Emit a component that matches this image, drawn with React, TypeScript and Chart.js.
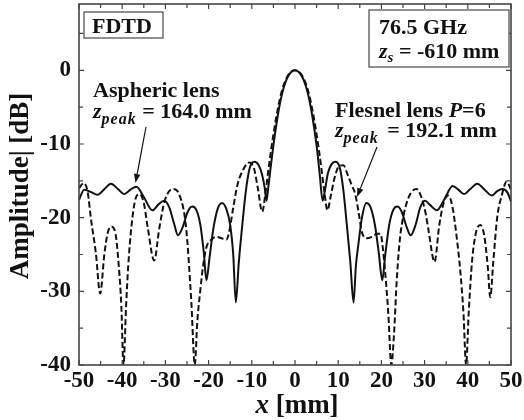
import { useEffect, useRef } from 'react';
import { Chart, registerables } from 'chart.js';

Chart.register(...registerables);

// Aspheric lens (solid)
const asphericX = [
  -50, -48.8, -47.3, -45.7, -44.1, -42.6, -41.0, -39.5, -38.1, -36.7, -35.0, -33.0, -31.6, -30.3,
  -29.1, -28.0, -27.1, -26.0, -24.9, -23.8, -22.8, -21.9, -21.1, -20.5, -19.8, -18.9, -17.9, -16.9,
  -15.9, -15.0, -14.3, -13.7, -13.0, -12.2, -11.4, -10.5, -9.4, -8.4, -7.6, -7.0, -6.6, -6.2, -5.7,
  -5.0, -4.0, -3.0, -2.0, -1.0, 0,
  1, 2, 3, 4, 5, 5.7, 6.4, 6.9, 7.6, 8.4, 9.4, 10.4, 11.2, 12.0, 12.8, 13.55, 14.1, 14.7, 15.5,
  16.5, 17.5, 18.5, 19.4, 20.2, 20.9, 21.8, 22.7, 23.7, 24.7, 25.8, 26.8, 27.9, 29.0, 30.1, 31.3,
  32.8, 34.5, 36.5, 37.8, 39.1, 40.6, 42.2, 43.9, 45.6, 46.8, 48.0, 49.2, 50,
];
const asphericY = [
  -17.6, -16.2, -16.5, -16.9, -16.1, -15.4, -16.1, -16.8, -16.2, -15.8, -17.2, -19.0, -18.2, -17.7,
  -18.6, -20.8, -22.4, -21.3, -19.3, -18.5, -19.0, -21.0, -24.8, -28.5, -25.5, -21.5, -18.8, -18.0,
  -18.8, -21.0, -25.0, -31.5, -26.0, -21.0, -16.5, -13.3, -12.4, -12.9, -14.2, -16.0, -17.7, -16.0, -13.5,
  -10.2, -6.2, -3.2, -1.3, -0.3, 0,
  -0.3, -1.3, -3.2, -6.2, -10.2, -14.0, -17.7, -16.4, -14.0, -12.8, -12.4, -13.3, -16.3, -21.0, -26.0, -31.5, -26.5, -23.5, -20.0,
  -18.0, -18.6, -21.0, -24.8, -28.5, -25.0, -21.0, -19.0, -18.5, -19.2, -21.2, -22.4, -21.0, -18.6, -17.7, -18.3,
  -19.0, -17.6, -15.7, -16.2, -16.8, -16.1, -15.4, -16.2, -17.0, -16.4, -16.1, -16.6, -17.8,
];

// Fresnel lens P=6 (dashed)
const fresnelX = [
  -50, -48.9, -48.0, -47.2, -46.1, -45.1, -44.1, -43.4, -42.6, -41.6, -40.8, -40.2, -39.7, -39.1,
  -38.6, -37.9, -36.9, -36.0, -35.0, -34.1, -32.6, -31.4, -30.2, -28.3, -26.7, -25.2, -24.0, -23.2,
  -22.6, -22.0, -21.2, -20.5, -19.4, -18.2, -17.0, -15.9, -15.1, -14.4, -13.3, -12.0, -10.6, -9.5,
  -8.6, -7.6, -6.8, -6.0, -5.0, -4.0, -3.0, -2.0, -1.0, 0,
  1, 2, 3, 4, 5, 6, 6.8, 7.5, 8.3, 9.2, 10.2, 11.2, 12.2, 13.2, 13.95, 14.7, 15.5, 16.6, 17.8, 19.0,
  19.8, 20.4, 20.9, 21.6, 22.3, 22.9, 23.6, 24.3, 25.2, 26.5, 28.1, 29.3, 30.3, 30.9, 32.3, 33.4,
  34.6, 35.5, 36.4, 37.4, 38.3, 39.0, 39.6, 40.2, 41.0, 41.9, 42.9, 43.8, 44.6, 45.2, 45.9, 46.8,
  47.9, 49.0, 50,
];
const fresnelY = [
  -16.0, -15.3, -16.5, -20.3, -24.8, -30.3, -24.8, -22.2, -21.2, -22.0, -26.5, -32.0, -40.0, -32.0,
  -26.5, -21.4, -17.4, -16.8, -18.0, -21.3, -25.8, -21.4, -17.8, -16.1, -17.0, -21.4, -31.4, -40.0,
  -34.0, -30.3, -26.2, -24.0, -23.0, -22.6, -22.8, -23.0, -21.5, -19.0, -15.5, -13.5, -12.5, -13.3,
  -16.0, -19.2, -16.5, -12.8, -8.7, -5.3, -2.7, -1.1, -0.25, 0,
  -0.25, -1.1, -2.7, -5.3, -8.7, -12.8, -16.5, -19.0, -17.0, -14.5, -13.0, -12.9, -14.2, -15.7, -16.8, -19.2, -22.0, -22.8, -22.6, -22.2,
  -22.2, -24.5, -27.6, -33.0, -40.0, -36.0, -28.0, -22.8, -19.5, -17.0, -16.1, -17.3, -19.6, -21.7, -26.0, -21.0,
  -17.6, -17.0, -18.4, -22.5, -27.5, -33.0, -40.0, -33.0, -25.8, -22.0, -21.0, -22.4, -26.5, -30.8, -26.0, -20.0,
  -16.9, -15.1, -16.2,
];

const xTickLabels = [-50, -40, -30, -20, -10, 0, 10, 20, 30, 40, 50];
const yTickLabels = [-40, -30, -20, -10, 0];
const xTickMarks = [-50, -45, -40, -35, -30, -25, -20, -15, -10, -5, 0, 5, 10, 15, 20, 25, 30, 35, 40, 45, 50];
const yTickMarks = [-40, -35, -30, -25, -20, -15, -10, -5, 0, 5];

const SERIF = '"Liberation Serif", "Times New Roman", serif';

function drawArrow(ctx: CanvasRenderingContext2D, x1: number, y1: number, x2: number, y2: number) {
  const ang = Math.atan2(y2 - y1, x2 - x1);
  const hl = 9;
  const hw = 3.2;
  ctx.save();
  ctx.strokeStyle = '#111';
  ctx.fillStyle = '#111';
  ctx.lineWidth = 1.2;
  ctx.beginPath();
  ctx.moveTo(x1, y1);
  ctx.lineTo(x2 - hl * Math.cos(ang), y2 - hl * Math.sin(ang));
  ctx.stroke();
  ctx.beginPath();
  ctx.moveTo(x2, y2);
  ctx.lineTo(x2 - hl * Math.cos(ang) + hw * Math.sin(ang), y2 - hl * Math.sin(ang) - hw * Math.cos(ang));
  ctx.lineTo(x2 - hl * Math.cos(ang) - hw * Math.sin(ang), y2 - hl * Math.sin(ang) + hw * Math.cos(ang));
  ctx.closePath();
  ctx.fill();
  ctx.restore();
}

function drawZpeak(ctx: CanvasRenderingContext2D, x: number, y: number, rest: string, gap: number) {
  ctx.font = `italic bold 22px ${SERIF}`;
  ctx.fillText('z', x, y);
  let cx = x + ctx.measureText('z').width;
  ctx.font = `italic bold 16px ${SERIF}`;
  (ctx as any).letterSpacing = '1px';
  ctx.fillText('peak', cx, y + 6);
  cx += ctx.measureText('peak').width + gap;
  (ctx as any).letterSpacing = '0px';
  ctx.font = `bold 22px ${SERIF}`;
  ctx.fillText(rest, cx, y);
}

const decorPlugin = {
  id: 'decor',
  afterDatasetsDraw(chart: any) {
    const ctx: CanvasRenderingContext2D = chart.ctx;
    const { left, right, top, bottom } = chart.chartArea;
    const xs = chart.scales.x;
    const ys = chart.scales.y;
    ctx.save();
    // frame
    ctx.strokeStyle = '#444';
    ctx.lineWidth = 1.6;
    ctx.strokeRect(left, top, right - left, bottom - top);
    // ticks
    ctx.lineWidth = 1.2;
    ctx.beginPath();
    xTickMarks.forEach((v) => {
      const px = xs.getPixelForValue(v);
      const len = v % 10 === 0 ? 5 : 4;
      ctx.moveTo(px, bottom);
      ctx.lineTo(px, bottom - len);
      ctx.moveTo(px, top);
      ctx.lineTo(px, top + len);
    });
    yTickMarks.forEach((v) => {
      const py = ys.getPixelForValue(v);
      const len = v % 10 === 0 ? 5 : 4;
      ctx.moveTo(left, py);
      ctx.lineTo(left + len, py);
      ctx.moveTo(right, py);
      ctx.lineTo(right - len, py);
    });
    ctx.stroke();

    // boxes
    ctx.fillStyle = '#fff';
    ctx.strokeStyle = '#555';
    ctx.lineWidth = 1.3;
    ctx.fillRect(84, 12, 79, 26);
    ctx.strokeRect(84, 12, 79, 26);
    ctx.fillRect(369, 10, 140, 57);
    ctx.strokeRect(369, 10, 140, 57);

    ctx.fillStyle = '#111';
    ctx.textBaseline = 'alphabetic';
    ctx.textAlign = 'left';
    ctx.font = `bold 22px ${SERIF}`;
    ctx.fillText('FDTD', 92, 33);
    ctx.fillText('76.5 GHz', 379, 34);
    ctx.font = `italic bold 22px ${SERIF}`;
    ctx.fillText('z', 379, 58);
    let w = ctx.measureText('z').width;
    ctx.font = `italic bold 15px ${SERIF}`;
    ctx.fillText('s', 379 + w, 62);
    w += ctx.measureText('s').width;
    ctx.font = `bold 22px ${SERIF}`;
    ctx.fillText(' = -610 mm', 379 + w, 58);

    // annotations
    ctx.font = `bold 22px ${SERIF}`;
    ctx.fillText('Aspheric lens', 93, 97);
    drawZpeak(ctx, 93, 118, ' = 164.0 mm', 0);

    ctx.font = `bold 22px ${SERIF}`;
    ctx.fillText('Flesnel lens ', 335, 117);
    let fw = ctx.measureText('Flesnel lens ').width;
    ctx.font = `italic bold 22px ${SERIF}`;
    ctx.fillText('P', 335 + fw, 117);
    fw += ctx.measureText('P').width;
    ctx.font = `bold 22px ${SERIF}`;
    ctx.fillText('=6', 335 + fw, 117);
    drawZpeak(ctx, 335, 137, ' = 192.1 mm', 3);

    drawArrow(ctx, 146, 127, 135.5, 183);
    drawArrow(ctx, 377, 147, 357, 197);

    // axis titles
    ctx.fillStyle = '#111';
    ctx.font = `bold 27px ${SERIF}`;
    const restW = ctx.measureText(' [mm]').width;
    ctx.font = `italic bold 27px ${SERIF}`;
    const xw = ctx.measureText('x').width;
    const startX = 297 - (xw + restW) / 2;
    ctx.fillText('x', startX, 413);
    ctx.font = `bold 27px ${SERIF}`;
    ctx.fillText(' [mm]', startX + xw, 413);

    ctx.save();
    ctx.translate(28, 186);
    ctx.rotate(-Math.PI / 2);
    ctx.textAlign = 'center';
    ctx.font = `bold 27px ${SERIF}`;
    ctx.fillText('Amplitude| [dB]', 0, 0);
    ctx.restore();

    ctx.restore();
  },
};

export default function App() {
  const ref = useRef<HTMLCanvasElement | null>(null);
  useEffect(() => {
    if (!ref.current) return;
    const chart = new Chart(ref.current, {
      type: 'line',
      data: {
        datasets: [
          {
            label: 'Aspheric lens',
            data: asphericX.map((x, i) => ({ x, y: asphericY[i] })),
            borderColor: '#111',
            borderWidth: 2,
            pointRadius: 0,
            cubicInterpolationMode: 'monotone',
            fill: false,
          },
          {
            label: 'Flesnel lens P=6',
            data: fresnelX.map((x, i) => ({ x, y: fresnelY[i] })),
            borderColor: '#111',
            borderWidth: 2,
            borderDash: [6, 3],
            pointRadius: 0,
            cubicInterpolationMode: 'monotone',
            fill: false,
          },
        ],
      },
      options: {
        animation: false,
        responsive: false,
        events: [],
        layout: { padding: { top: 4, right: 13, left: 0, bottom: 0 } },
        plugins: { legend: { display: false }, tooltip: { enabled: false } },
        scales: {
          x: {
            type: 'linear',
            min: -50,
            max: 50,
            grid: { display: false },
            border: { display: false },
            ticks: {
              autoSkip: false,
              maxRotation: 0,
              padding: -6,
              color: '#111',
              font: { family: SERIF, size: 23, weight: 'bold' },
              callback: (v: any) => String(v),
            },
            afterBuildTicks: (s: any) => {
              s.ticks = xTickLabels.map((v) => ({ value: v }));
            },
            afterFit: (s: any) => {
              s.height = 55;
              s.paddingLeft = 0;
              s.paddingRight = 0;
            },
          },
          y: {
            type: 'linear',
            min: -40,
            max: 9,
            grid: { display: false },
            border: { display: false },
            ticks: {
              autoSkip: false,
              padding: 0,
              color: '#111',
              font: { family: SERIF, size: 23, weight: 'bold' },
              callback: (v: any) => String(v),
            },
            afterBuildTicks: (s: any) => {
              s.ticks = yTickLabels.map((v) => ({ value: v }));
            },
            afterFit: (s: any) => {
              s.width = 79;
              s.paddingTop = 0;
              s.paddingBottom = 0;
            },
          },
        },
      },
      plugins: [decorPlugin],
    } as any);
    return () => chart.destroy();
  }, []);
  return (
    <div style={{ position: 'fixed', left: 0, top: 0, width: 524, height: 420, background: '#fff' }}>
      <canvas ref={ref} width={524} height={420} style={{ width: 524, height: 420 }} />
    </div>
  );
}
